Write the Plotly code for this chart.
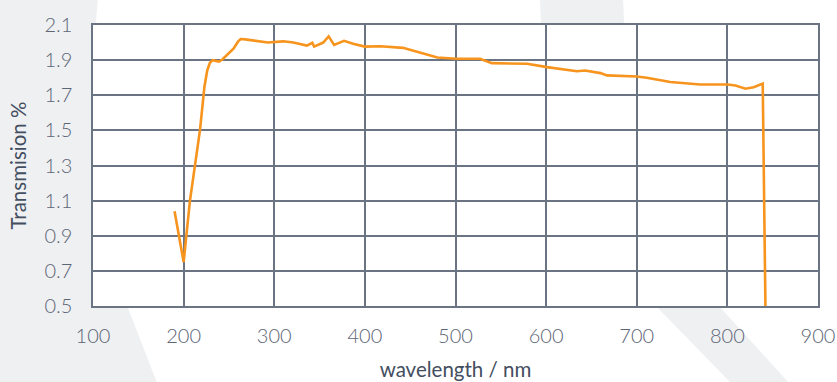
import plotly.graph_objects as go

# ---- data ----
wavelength_nm = [190, 200, 207, 218, 221, 223, 226, 229, 232, 236, 239, 243, 248, 255, 260,
                 263, 268, 280, 293, 310, 321, 336, 342, 344, 354, 360, 366, 377, 387, 400,
                 417, 442, 460, 480, 501, 527, 540, 579, 601, 634, 643, 660, 667, 700, 711,
                 737, 770, 800, 809, 820, 829, 839, 842]
transmission = [1.04, 0.75, 1.10, 1.50, 1.65, 1.75, 1.84, 1.885, 1.90, 1.895, 1.892, 1.905,
                1.93, 1.965, 2.005, 2.02, 2.018, 2.008, 2.0, 2.007, 2.0, 1.983, 1.999, 1.977,
                2.0, 2.035, 1.987, 2.01, 1.993, 1.977, 1.979, 1.97, 1.945, 1.915, 1.908,
                1.908, 1.883, 1.879, 1.86, 1.837, 1.841, 1.826, 1.813, 1.807, 1.80, 1.775,
                1.761, 1.761, 1.756, 1.737, 1.746, 1.766, 0.5]
x_ticks = [100, 200, 300, 400, 500, 600, 700, 800, 900]
y_ticks = [0.5, 0.7, 0.9, 1.1, 1.3, 1.5, 1.7, 1.9, 2.1]

W, H = 837, 382
L, R, T, B = 93.3, 817.7, 24.5, 305.7


def px(xp, yp):
    return (xp - L) / (R - L), (B - yp) / (B - T)


def path(points):
    pts = [px(a, b) for a, b in points]
    d = "M " + " L ".join(f"{a:.4f},{b:.4f}" for a, b in pts) + " Z"
    return d


bg_gray = "#eff0f2"
left_shape = [(-5, -5), (98, -5), (98, 0), (96, 25), (100, 120), (110, 220), (128, 307),
              (157, 382), (160, 390), (-5, 390)]
right_shape = [(540, -5), (540, 0), (541, 25), (560, 120), (600, 220), (655, 305),
               (730, 382), (736, 390), (795, 390), (788, 382), (718, 305), (680, 220),
               (645, 120), (624, 25), (623, 0), (623, -5)]

fig = go.Figure()
fig.add_trace(go.Scatter(
    x=wavelength_nm, y=transmission, mode="lines",
    line=dict(color="#f7941d", width=2.6),
    hoverinfo="skip", showlegend=False,
))

grid_col = "#6b7483"
tick_font = dict(family="Lato", size=20, color="#5d6676", weight=300)
title_font = dict(family="Lato", size=20.5, color="#434e60", weight=400)

fig.update_layout(
    width=W, height=H,
    margin=dict(l=L, r=W - R, t=T, b=H - B, autoexpand=False),
    paper_bgcolor="white",
    plot_bgcolor="rgba(0,0,0,0)",
    shapes=[
        dict(type="path", path=path(left_shape), xref="paper", yref="paper",
             fillcolor=bg_gray, line=dict(width=0), layer="below"),
        dict(type="path", path=path(right_shape), xref="paper", yref="paper",
             fillcolor=bg_gray, line=dict(width=0), layer="below"),
        dict(type="rect", x0=0, x1=1, y0=0, y1=1, xref="paper", yref="paper",
             fillcolor="white", line=dict(width=0), layer="below"),
    ],
    xaxis=dict(
        range=[100, 900], tickvals=x_ticks, ticktext=[str(v) for v in x_ticks],
        showgrid=True, gridcolor=grid_col, gridwidth=1.5,
        showline=True, linecolor=grid_col, linewidth=1.5, mirror=True,
        zeroline=False, ticks="", ticklabelstandoff=11, automargin=False,
        tickfont=tick_font,
        title=dict(text="wavelength / nm", font=title_font, standoff=17),
    ),
    yaxis=dict(
        range=[0.5, 2.1], tickvals=y_ticks, ticktext=[f"{v:.1f}" for v in y_ticks],
        showgrid=True, gridcolor=grid_col, gridwidth=1.5,
        showline=True, linecolor=grid_col, linewidth=1.5, mirror=True,
        zeroline=False, ticks="", ticklabelstandoff=15, automargin=False,
        tickfont=tick_font,
        title=dict(text="Transmision %", font=title_font, standoff=12),
    ),
)

fig.write_html("out.html", config={"displayModeBar": False},
               post_script="document.body.style.margin='0';document.body.style.overflow='hidden';")
